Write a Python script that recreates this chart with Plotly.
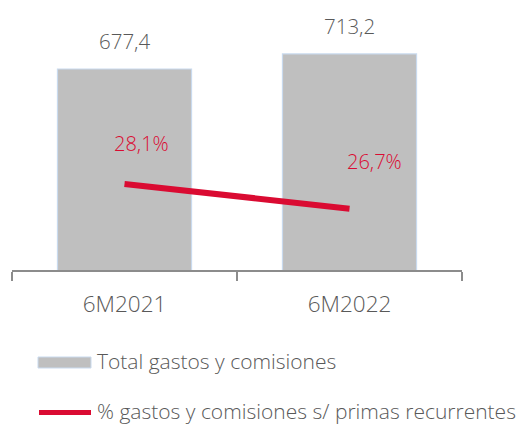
import plotly.graph_objects as go

# Data
periods = ["6M2021", "6M2022"]
total_gastos = [677.4, 713.2]
pct_gastos = [28.1, 26.7]
bar_labels = ["677,4", "713,2"]
pct_labels = ["28,1%", "26,7%"]
series_names = ["Total gastos y comisiones",
                "% gastos y comisiones s/ primas recurrentes"]

GREY_TEXT = "#595959"
BAR_FILL = "#BFBFBF"
BAR_EDGE = "#C9DAEE"
RED = "#DA0B32"
FONT = "Open Sans, Lato, sans-serif"
WEIGHT = 300

fig = go.Figure()

fig.add_trace(go.Bar(
    x=periods, y=total_gastos, name=series_names[0],
    marker=dict(color=BAR_FILL, line=dict(color=BAR_EDGE, width=1.2)),
    width=0.596, showlegend=False, hoverinfo="skip",
))

fig.add_trace(go.Scatter(
    x=periods, y=pct_gastos, name=series_names[1], yaxis="y2",
    mode="lines", line=dict(color=RED, width=6),
    showlegend=False, hoverinfo="skip",
))

annotations = []
for p, v, t in zip(periods, total_gastos, bar_labels):
    annotations.append(dict(
        x=p, y=v, xref="x", yref="y", text=t, showarrow=False,
        yanchor="bottom", yshift=12,
        font=dict(family=FONT, size=20.5, color=GREY_TEXT, weight=WEIGHT),
    ))
pct_shifts = [(17, 25), (25, 32)]
for p, v, t, (dx, dy) in zip(periods, pct_gastos, pct_labels, pct_shifts):
    annotations.append(dict(
        x=p, y=v, xref="x", yref="y2", text=t, showarrow=False,
        xshift=dx, yshift=dy, yanchor="bottom",
        font=dict(family=FONT, size=20, color=RED, weight=WEIGHT),
    ))

# Legend drawn below the plot
shapes = [
    dict(type="rect", xref="paper", yref="paper",
         x0=(38 - 12) / 450, x1=(91 - 12) / 450,
         y0=(270 - 368) / 250, y1=(270 - 357) / 250,
         fillcolor=BAR_FILL, line=dict(color=BAR_EDGE, width=1)),
    dict(type="line", xref="paper", yref="paper",
         x0=(39 - 12) / 450, x1=(91 - 12) / 450,
         y0=(270 - 412.5) / 250, y1=(270 - 412.5) / 250,
         line=dict(color=RED, width=5)),
]
legend_y = [360.5, 410.5]
for name, ly in zip(series_names, legend_y):
    annotations.append(dict(
        x=(95 - 12) / 450, y=(270 - ly) / 250, xref="paper", yref="paper",
        text=name, showarrow=False, xanchor="left", yanchor="middle",
        font=dict(family=FONT, size=21, color=GREY_TEXT, weight=WEIGHT),
    ))

fig.update_layout(
    width=524, height=425,
    margin=dict(l=12, r=62, t=20, b=155),
    paper_bgcolor="white", plot_bgcolor="white",
    bargap=0.404,
    xaxis=dict(
        type="category", range=[-0.5, 1.5],
        showline=True, linecolor="#8C8C8C", linewidth=1.5,
        ticks="outside", tickson="boundaries", ticklen=9,
        tickcolor="#8C8C8C", tickwidth=1.5,
        ticklabelstandoff=13,
        tickfont=dict(family=FONT, size=22.5, color=GREY_TEXT, weight=WEIGHT),
        showgrid=False, zeroline=False,
    ),
    yaxis=dict(range=[200, 793.75], visible=False, showgrid=False),
    yaxis2=dict(range=[23.22, 37.4], overlaying="y", visible=False,
                showgrid=False),
    annotations=annotations,
    shapes=shapes,
)

fig.write_html("out.html")
